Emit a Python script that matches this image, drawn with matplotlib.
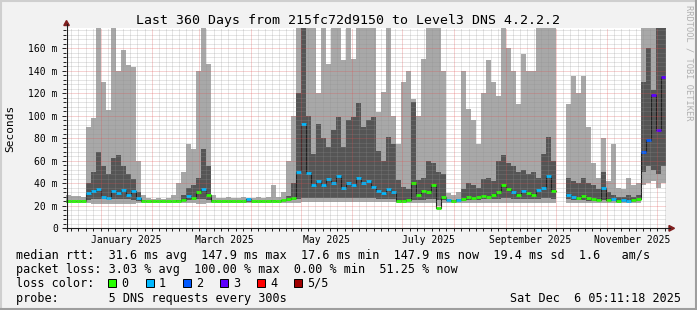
import numpy as np
import matplotlib.pyplot as plt
from matplotlib.lines import Line2D
from matplotlib.patches import Rectangle, Polygon

plt.rcParams['font.family'] = 'DejaVu Sans Mono'

W, H = 697, 310
nan = np.nan

# smokeping 360 day view, one value per 3 day bin (ms), Dec 11 2024 -> Dec 6 2025
smoke_top = [30, 29, 29, 28, 90, 98, 180, 130, 105, 180,
             140, 158, 145, 143, 60, 30, 27, 26, 27, 26,
             27, 30, 40, 50, 75, 70, 140, 180, 146, 30,
             27, 27, 28, 27, 27, 28, 27, 27, 28, 27,
             28, 38, 28, 32, 60, 100, 180, 180, 180, 180,
             120, 180, 146, 180, 180, 149, 180, 150, 180, 180,
             180, 180, 103, 121, 180, 100, 75, 130, 140, 115,
             100, 150, 180, 180, 180, 140, 31, 30, 32, 140,
             106, 96, 75, 120, 149, 130, 117, 180, 160, 140,
             110, 155, 140, 140, 180, 180, 180, 180, nan, nan,
             110, 135, 120, 135, 90, 58, 45, 80, 42, 75,
             36, 35, 45, 38, 40, 180, 180, 180, 180, 180]

dark_top = [24, 24, 24, 24, 40, 50, 68, 55, 48, 62,
            65, 55, 48, 44, 32, 25, 24, 24, 24, 24,
            24, 24, 25, 30, 36, 38, 45, 70, 55, 25,
            24, 24, 24, 24, 24, 24, 25, 24, 24, 24,
            24, 25, 24, 25, 29, 40, 120, 180, 100, 66,
            93, 80, 72, 87, 99, 72, 96, 99, 111, 90,
            96, 99, 69, 60, 81, 75, 43, 37, 35, 112,
            43, 45, 60, 58, 50, 48, 26, 25, 26, 35,
            40, 38, 36, 44, 45, 42, 60, 65, 58, 55,
            50, 52, 48, 50, 45, 66, 81, 60, nan, nan,
            45, 42, 40, 45, 40, 38, 35, 50, 32, 30,
            28, 28, 30, 28, 30, 130, 160, 123, 180, 180]

dark_bottom = [23.5, 23.5, 23.5, 23.5, 25, 26, 26, 26, 26, 26,
               26, 26, 26, 25, 24, 23.5, 23.5, 23.5, 23.5, 23.5,
               23.5, 23.5, 24, 24, 25, 25, 26, 26, 25, 23.5,
               23.5, 23.5, 23.5, 23.5, 23.5, 23.5, 23.5, 23.5, 23.5, 23.5,
               23.5, 24, 23.5, 24, 24, 25, 26, 27, 27, 27,
               27, 27, 27, 27, 27, 27, 27, 27, 27, 27,
               27, 27, 26, 26, 26, 26, 24, 24, 24, 25,
               25, 25, 26, 26, 25, 25, 24, 23.5, 24, 24,
               25, 25, 25, 26, 26, 26, 26, 27, 27, 26,
               26, 26, 26, 26, 26, 27, 27, 26, nan, nan,
               26, 25, 25, 25, 24, 24, 24, 25, 24, 24,
               23.5, 23.5, 24, 23.5, 24, 50, 55, 52, 48, 55]

smoke_bottom = [22.5, 22.5, 22.5, 22.5, 22.5, 22, 22, 22, 22, 21.5,
                21.5, 22, 22, 22, 22.5, 22.5, 22.5, 22.5, 22.5, 22.5,
                22.5, 22.5, 22.5, 22.5, 22.5, 22.5, 22, 22, 22.5, 22.5,
                22.5, 22.5, 22.5, 22.5, 22.5, 22.5, 22.5, 22.5, 22.5, 22.5,
                22.5, 22.5, 22.5, 22.5, 22.5, 22.5, 22.5, 23, 23, 23,
                23, 23, 23, 23, 23, 23, 23, 23, 23, 23,
                23, 23, 23, 23, 23, 23, 22.5, 22.5, 22.5, 22.5,
                22.5, 22.5, 22.5, 22.5, 20, 22.5, 22.5, 22.5, 22.5, 22.5,
                22.5, 22.5, 22.5, 22.5, 22.5, 22.5, 22.5, 22.5, 22.5, 22.5,
                22.5, 22.5, 22.5, 22.5, 22.5, 22.5, 22.5, 22.5, nan, nan,
                22.5, 22.5, 22.5, 22.5, 22.5, 22.5, 22.5, 22.5, 22.5, 22.5,
                22.5, 22.5, 22.5, 22.5, 22.5, 38, 40, 42, 36, 40]

median_rtt = [24, 24, 24, 24, 31, 33, 35, 28, 27, 33,
              31, 34, 30, 33, 27, 24, 24, 24, 24, 24,
              24, 24, 24, 25, 29, 27, 32, 35, 30, 24,
              24, 24, 24, 24, 24, 24, 26, 24, 24, 24,
              24, 24, 24, 25, 26, 27, 50, 93, 49, 38,
              42, 38, 44, 40, 46, 36, 40, 38, 45, 40,
              42, 37, 33, 31, 35, 32, 24, 24, 25, 40,
              30, 33, 32, 38, 18, 28, 25, 24, 25, 26,
              28, 27, 28, 29, 28, 30, 32, 38, 35, 32,
              30, 33, 31, 30, 34, 36, 46, 33, nan, nan,
              30, 28, 27, 29, 27, 26, 25, 36, 25, 26,
              24, 25, 24, 25, 26, 68, 78, 118, 87, 134]

# pings lost out of 5 for each bin
lost = [0, 0, 0, 0, 1, 1, 1, 1, 1, 1,
        1, 1, 1, 1, 1, 0, 0, 0, 0, 0,
        0, 0, 0, 0, 1, 0, 0, 1, 0, 0,
        0, 0, 0, 0, 0, 0, 1, 0, 0, 0,
        0, 0, 0, 0, 0, 0, 1, 1, 1, 1,
        1, 1, 1, 1, 1, 1, 1, 1, 1, 1,
        1, 1, 1, 1, 1, 1, 0, 0, 0, 0,
        0, 0, 0, 0, 0, 0, 1, 0, 1, 0,
        0, 0, 0, 0, 0, 0, 0, 0, 0, 1,
        0, 1, 0, 0, 1, 1, 1, 0, 0, 0,
        1, 1, 0, 0, 0, 0, 0, 1, 0, 1,
        0, 1, 1, 0, 0, 2, 2, 3, 3, 3]

loss_colors = ['#26ff00', '#00b8ff', '#0059ff', '#5e00ff', '#ff0000', '#a00000']
loss_labels = ['0', '1', '2', '3', '4', '5/5']

# day index (from Dec 11 2024) of each month start, Dec 2024 .. Jan 2026
month_starts = [-10, 21, 52, 80, 111, 141, 172, 202, 233, 264, 294, 325, 355, 386]
month_names = ['January 2025', 'March 2025', 'May 2025', 'July 2025',
               'September 2025', 'November 2025']
label_pos = [36.5, 95.5, 156.5, 217.5, 279, 340]


def fx(x):
    return x / W


def fy(y):
    return 1 - y / H


fig = plt.figure(figsize=(W / 100, H / 100), dpi=100, facecolor='#f2f2f2')
ax = fig.add_axes([fx(65.5), fy(228.3), 600 / W, 200.3 / H])
ax.set_facecolor('white')
ax.set_xlim(0, 360)
ax.set_ylim(0, 177.8)
for s in ax.spines.values():
    s.set_visible(False)

left = np.arange(0, 360, 3)
top = np.array(smoke_top)
bot = np.array(smoke_bottom)
dtop = np.array(dark_top)
dbot = np.array(dark_bottom)
med = np.array(median_rtt)

# smoke
ax.bar(left, top - bot, bottom=bot, width=3, align='edge', color='#a8a8a8',
       lw=0, antialiased=False, zorder=1)
ax.bar(left, dtop - dbot, bottom=dbot, width=3, align='edge', color='#555555',
       lw=0, antialiased=False, zorder=2)

# median, black step line with loss coloured pieces on top
ax.step(np.append(left, 360), np.append(med, med[-1]), where='post',
        color='#202020', lw=0.8, zorder=3)
ax.hlines(med, left, left + 3, colors=[loss_colors[k] for k in lost],
          lw=2.0, zorder=4)

# grid on top of the data, rrdtool style
minor_x = []
for a, b in zip(month_starts[:-1], month_starts[1:]):
    for k in range(1, 7):
        p = a + (b - a) * k / 7
        if 0 < p < 360:
            minor_x.append(p)
grid_c = (0.56, 0.56, 0.56, 0.45)
mgrid_c = (0.87, 0.31, 0.31, 0.5)
for p in minor_x:
    ax.axvline(p, color=grid_c, lw=0.72, ls=(0, (1, 1)), zorder=6)
for p in month_starts[1:-1]:
    ax.axvline(p, color=mgrid_c, lw=0.72, ls=(0, (1, 1)), zorder=7)
for v in range(4, 178, 4):
    if v % 20:
        ax.axhline(v, color=grid_c, lw=0.72, ls=(0, (1, 1)), zorder=6)
for v in range(20, 161, 20):
    ax.axhline(v, color=mgrid_c, lw=0.72, ls=(0, (1, 1)), zorder=7)

# ticks
ax.set_yticks(range(0, 161, 20), ['0'] + [f'{v} m' for v in range(20, 161, 20)])
ax.set_yticks(range(0, 178, 4), minor=True)
ax.tick_params(axis='y', which='major', length=3, width=0.7, color='#1f1f1f',
               pad=2.5, labelsize=7)
ax.tick_params(axis='y', which='minor', length=2, width=0.7, color='#1f1f1f')
ax.set_xticks(label_pos, month_names)
ax.set_xticks(minor_x + month_starts[1:-1], minor=True)
ax.tick_params(axis='x', which='major', length=0, pad=4.5, labelsize=7)
ax.tick_params(axis='x', which='minor', length=2, width=0.7, color='#1f1f1f')

# axes lines and arrows
axis_c = '#1f1f1f'
arrow_c = '#801f1f'
fig.add_artist(Line2D([fx(66.5), fx(66.5)], [fy(231), fy(24)], color=axis_c, lw=0.8))
fig.add_artist(Line2D([fx(62.5), fx(670)], [fy(228.3), fy(228.3)], color=axis_c, lw=0.8))
fig.add_artist(Polygon([(fx(63.8), fy(25.5)), (fx(69.3), fy(25.5)), (fx(66.5), fy(20.5))],
                       closed=True, color=arrow_c, transform=fig.transFigure))
fig.add_artist(Polygon([(fx(669), fy(225.5)), (fx(669), fy(231.2)), (fx(674.5), fy(228.3))],
                       closed=True, color=arrow_c, transform=fig.transFigure))

# titles
fig.text(0.5, fy(24), 'Last 360 Days from 215fc72d9150 to Level3 DNS 4.2.2.2',
         ha='center', va='baseline', size=9.5)
fig.text(fx(10), fy(128), 'Seconds', rotation=90, ha='center', va='center', size=8)
fig.text(fx(689), fy(5), 'RRDTOOL / TOBI OETIKER', rotation=270, ha='center',
         va='top', size=6.2, color='#b0b0b0')

# legend
fig.text(fx(16), fy(259),
         'median rtt:  31.6 ms avg  147.9 ms max  17.6 ms min  147.9 ms now  19.4 ms sd  1.6   am/s',
         ha='left', va='baseline', size=8.5)
fig.text(fx(16), fy(273),
         'packet loss: 3.03 % avg  100.00 % max  0.00 % min  51.25 % now',
         ha='left', va='baseline', size=8.5)
fig.text(fx(16), fy(287), 'loss color:', ha='left', va='baseline', size=8.5)
box_x = [108.4, 145.8, 182.7, 220, 256.9, 293.8]
text_x = [121.5, 159, 196, 233, 270, 307.5]
for c, lab, bx, tx in zip(loss_colors, loss_labels, box_x, text_x):
    fig.add_artist(Rectangle((fx(bx), fy(287)), 8 / W, 8 / H, transform=fig.transFigure,
                             facecolor=c, edgecolor='black', lw=0.7))
    fig.text(fx(tx), fy(287), lab, ha='left', va='baseline', size=8.5)
fig.text(fx(16), fy(302), 'probe:       5 DNS requests every 300s',
         ha='left', va='baseline', size=8.5)
fig.text(fx(681), fy(302), 'Sat Dec  6 05:11:18 2025', ha='right', va='baseline', size=8.5)

# 3d border
fig.add_artist(Line2D([0, 1], [fy(1), fy(1)], color='#cfcfcf', lw=1.5))
fig.add_artist(Line2D([fx(1), fx(1)], [0, 1], color='#cfcfcf', lw=1.5))
fig.add_artist(Line2D([0, 1], [fy(309), fy(309)], color='#9e9e9e', lw=1.5))
fig.add_artist(Line2D([fx(696), fx(696)], [0, 1], color='#9e9e9e', lw=1.5))

fig.savefig('out.png', dpi=100, facecolor=fig.get_facecolor())
